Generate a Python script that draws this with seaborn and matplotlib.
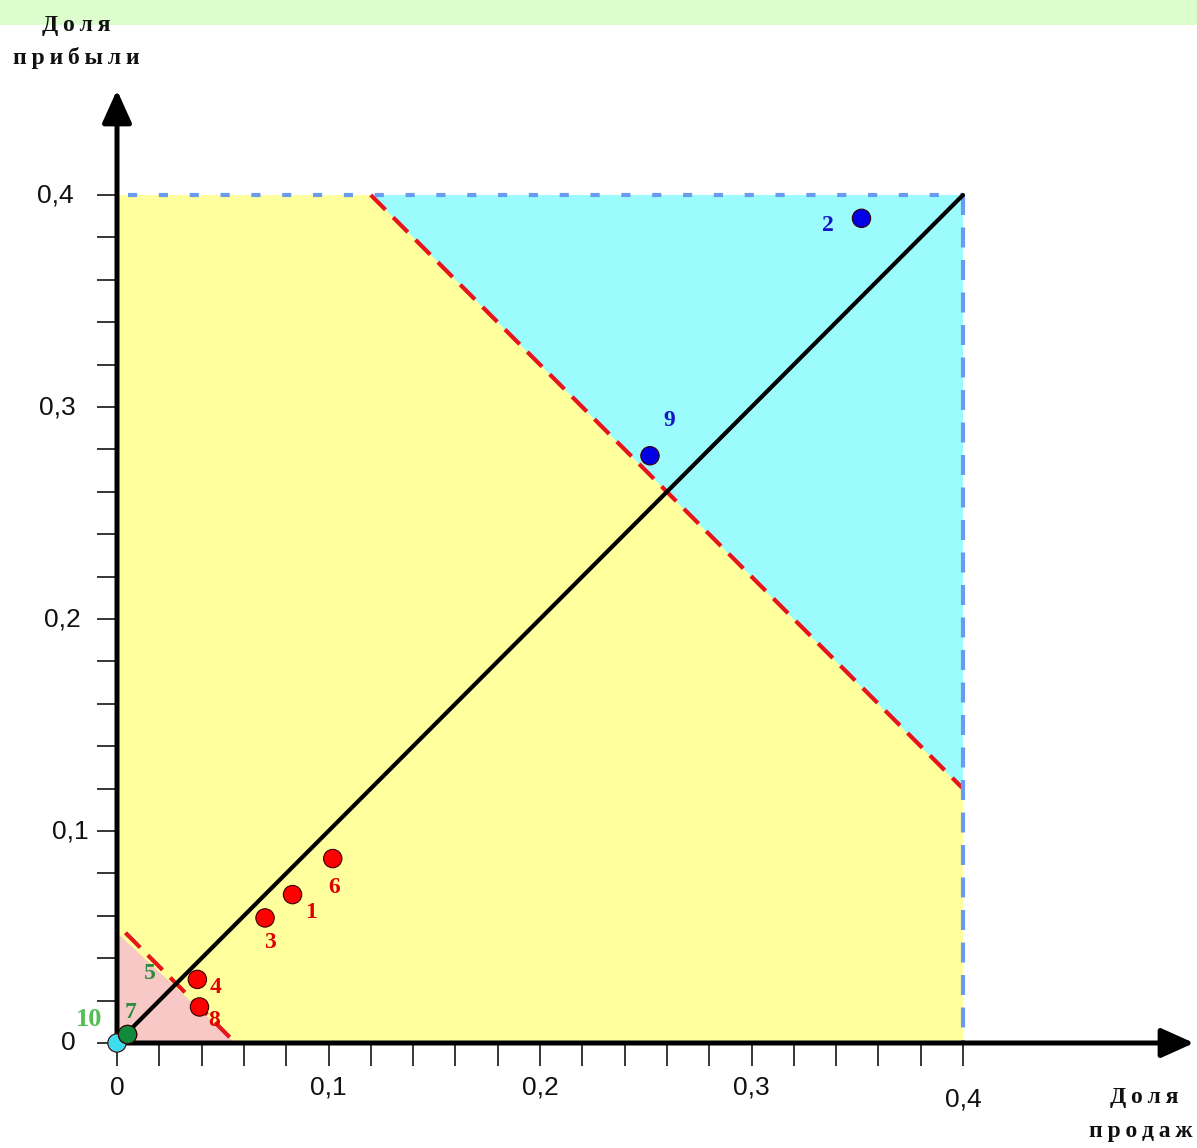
import numpy as np
import pandas as pd
import matplotlib
matplotlib.use('Agg')
import matplotlib.pyplot as plt
import seaborn as sns

# Profit share vs sales share map

sns.set_theme(style='white')

# products: number, share of sales, share of profit, zone group
product_labels = ['1', '2', '3', '4', '5', '6', '7', '8', '9', '10']
sales_share = [0.083, 0.352, 0.070, 0.038, 0.005, 0.102, 0.005, 0.039, 0.252, 0.0]
profit_share = [0.070, 0.389, 0.059, 0.030, 0.004, 0.087, 0.004, 0.017, 0.277, 0.0]
product_group = ['mid', 'top', 'mid', 'mid', 'low', 'mid', 'low', 'mid', 'top', 'zero']

# zone boundaries
zone_limit = 0.4
upper_cut = 0.52    # x + y border of the cyan zone
lower_cut = 0.056   # x + y border of the pink zone

tick_values = [0, 0.1, 0.2, 0.3, 0.4]
tick_text = ['0', '0,1', '0,2', '0,3', '0,4']
minor_step = 0.02

point_colors = {'mid': '#ff0000', 'top': '#0000e6', 'low': '#0f8a3c', 'zero': '#3fdcef'}
label_colors = {'mid': '#e00000', 'top': '#1414c8', 'low': '#2e8b3e', 'zero': '#52bf52'}
# label offsets from the point, in pixels
label_offsets = {'1': (19, -18), '2': (-34, -7), '3': (5, -25), '4': (18, -8),
                 '5': (22, 61), '6': (1, -29), '7': (3, 22), '8': (15, -14),
                 '9': (19, 35), '10': (-28, 23)}

W, H = 1197, 1148
X0, SX, Y0, SY = 117, 2115, 1043, 2120


def px(x, y):
    return (x - X0) / SX, (Y0 - y) / SY


def spaced(word):
    return '\u2009'.join(word)


fig = plt.figure(figsize=(W / 100, H / 100), dpi=100)
ax = fig.add_axes([0, 0, 1, 1])
ax.set_xlim(px(0, 0)[0], px(W, 0)[0])
ax.set_ylim(px(0, H)[1], px(0, 0)[1])
for s in ax.spines.values():
    s.set_visible(False)
ax.spines['bottom'].set_position(('data', 0))
ax.spines['left'].set_position(('data', 0))

# light green band at the top
ax.axhspan(px(0, 25)[1], 1, color='#dcfdcc', zorder=0, lw=0)

L = zone_limit
ax.fill([0, 0, L, L], [0, L, L, 0], color='#ffff9e', zorder=1, lw=0)
ax.fill([upper_cut - L, L, L], [L, L, upper_cut - L], color='#9bfbfd', zorder=2, lw=0)
ax.fill([0, 0, lower_cut], [0, lower_cut - 0.004, 0], color='#f8c8c6', zorder=2, lw=0)

# zone borders
ax.plot([upper_cut - L, L], [L, upper_cut - L], color='#e8141b', lw=3, dashes=(5, 2.6), zorder=3)
ax.plot([0.004, lower_cut], [lower_cut - 0.004, 0], color='#e8141b', lw=3, dashes=(5, 2.6), zorder=3)
ax.plot([0.005, L], [L, L], color='#6b9bf0', lw=3, dashes=(2.2, 5.2), zorder=3)
ax.plot([L, L], [L, 0], color='#6b9bf0', lw=3, dashes=(4.8, 3), zorder=3)
ax.plot([0, L], [0, L], color='black', lw=3, zorder=4)

# axes with arrows
arrow = dict(arrowstyle='-|>,head_length=1.0,head_width=0.45', lw=3.6, color='black',
             mutation_scale=20, shrinkA=0, shrinkB=0)
ax.annotate('', xy=px(X0, 90), xytext=(0, -0.0008), arrowprops=arrow, zorder=5)
ax.annotate('', xy=px(1194, Y0), xytext=(-0.0008, 0), arrowprops=arrow,
            annotation_clip=False, zorder=5)

df = pd.DataFrame({'label': product_labels, 'sales': sales_share,
                   'profit': profit_share, 'group': product_group})
df = df.iloc[::-1]
sns.scatterplot(data=df, x='sales', y='profit', hue='group', palette=point_colors,
                s=175, edgecolor='#3a0000', linewidth=0.8, legend=False, ax=ax, zorder=9)
ax.set_xlabel('')
ax.set_ylabel('')

for lab, xv, yv, g in zip(product_labels, sales_share, profit_share, product_group):
    dx, dy = label_offsets[lab]
    ax.annotate(lab, (xv, yv), xytext=(dx, dy), textcoords='offset pixels',
                ha='center', va='center', color=label_colors[g],
                fontsize=19 if lab == '10' else 17, fontweight='bold',
                family='Liberation Serif', zorder=10)

ticks = np.arange(0, L + 0.001, minor_step)
ax.set_xticks(ticks)
ax.set_yticks(ticks)
ax.tick_params(axis='x', bottom=True, top=False, direction='out', length=16.5, width=1.1,
               color='black', labelbottom=False)
ax.tick_params(axis='y', left=True, right=False, direction='out', length=14.5, width=1.1,
               color='black', labelleft=False)
ax.grid(False)

tick_font = dict(family='Liberation Sans', fontsize=19,
                 color='#111111', ha='center', va='center')
y_label_x = [68, 70, 62, 57, 55]
for v, t, xp in zip(tick_values, tick_text, y_label_x):
    ax.text(px(xp, 0)[0], v, t, **tick_font)
x_label_y = [1088, 1088, 1088, 1088, 1100]
for v, t, yp in zip(tick_values, tick_text, x_label_y):
    ax.text(v, px(0, yp)[1], t, **tick_font)

title_font = dict(family='Liberation Serif', fontweight='bold', fontsize=17,
                  color='#111111', ha='center', va='center')
ax.text(*px(76, 25), spaced('Доля'), **title_font)
ax.text(*px(76, 58), spaced('прибыли'), **title_font)
ax.text(*px(1144, 1098), spaced('Доля'), **title_font)
ax.text(*px(1141, 1132), spaced('продаж'), **title_font)

fig.savefig('out.png', dpi=100)
